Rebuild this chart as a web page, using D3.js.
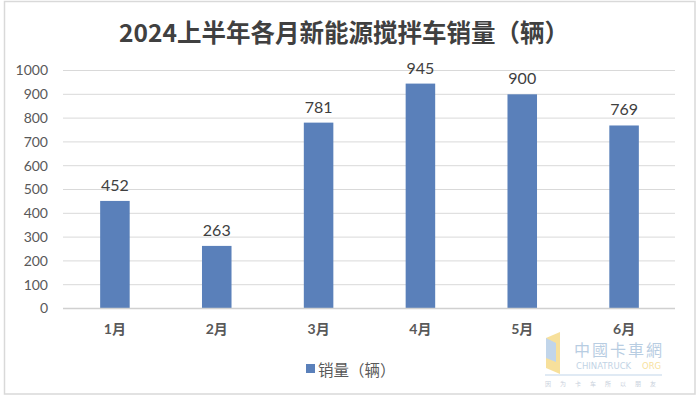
<!DOCTYPE html>
<html><head><meta charset="utf-8">
<script src="https://cdn.jsdelivr.net/npm/d3@7"></script>
<style>body{margin:0;background:#fff}svg{display:block}</style>
</head><body>
<svg id="c" width="700" height="399"></svg>
<script>
const categories = ["1月","2月","3月","4月","5月","6月"];
const sales = [452, 263, 781, 945, 900, 769];
const yTicks = [0,100,200,300,400,500,600,700,800,900,1000];
const title = "2024上半年各月新能源搅拌车销量（辆）";
const seriesName = "销量（辆）";

const svg = d3.select("#c");
const font = "Lato, 'Noto Sans CJK SC', sans-serif";

svg.append("rect").attr("x",4.5).attr("y",1.5).attr("width",690.5).attr("height",392.5)
  .attr("fill","#fff").attr("stroke","#d9d9d9").attr("stroke-width",1.5);

const x = d3.scaleBand().domain(categories).range([64,675]).paddingInner(0.71).paddingOuter(0.355);
const y = d3.scaleLinear().domain([0,1000]).range([308.5,70.5]);

// gridlines
svg.append("g").selectAll("line").data(yTicks.filter(d=>d>0)).join("line")
  .attr("x1",63).attr("x2",675).attr("y1",d=>y(d)).attr("y2",d=>y(d))
  .attr("stroke","#d9d9d9").attr("stroke-width",1);

// y axis labels
const yAxis = d3.axisLeft(y).tickValues(yTicks).tickFormat(d3.format("d")).tickSize(0).tickPadding(0);
const gy = svg.append("g").attr("transform","translate(48,0)").call(yAxis);
gy.select(".domain").remove();
gy.selectAll("text").attr("font-family",font).attr("font-size",14).attr("fill","#595959");

// bars
svg.append("g").selectAll("rect").data(sales).join("rect")
  .attr("x",(d,i)=>x(categories[i])).attr("width",x.bandwidth())
  .attr("y",d=>y(d)).attr("height",d=>y(0)-y(d)).attr("fill","#5a80ba");

// x axis
const xAxis = d3.axisBottom(x).tickSize(0).tickPadding(16);
const gx = svg.append("g").attr("transform",`translate(0,${y(0)})`).call(xAxis);
gx.select(".domain").attr("stroke","#d0d0d0").attr("stroke-width",1.5).attr("d","M63,0H675");
gx.selectAll("text").attr("font-family",font).attr("font-size",14).attr("font-weight","bold").attr("fill","#595959");

// data labels
svg.append("g").selectAll("text").data(sales).join("text")
  .attr("x",(d,i)=>x(categories[i])+x.bandwidth()/2).attr("y",d=>y(d)-10)
  .attr("text-anchor","middle").attr("font-family",font).attr("font-size",16)
  .attr("fill","#404040").text(d=>d);

// title
svg.append("text").attr("x",344).attr("y",42).attr("text-anchor","middle")
  .attr("font-family","'Noto Sans CJK SC', sans-serif").attr("font-size",24.5).attr("font-weight","bold")
  .attr("fill","#404040").text(title);

// legend
svg.append("rect").attr("x",306).attr("y",364).attr("width",9).attr("height",9).attr("fill","#5a80ba");
svg.append("text").attr("x",318).attr("y",376).attr("font-family","'Noto Sans CJK SC', sans-serif")
  .attr("font-size",15.5).attr("fill","#595959").text(seriesName);

// watermark
const wm = svg.append("g").attr("opacity",0.55);
wm.append("path").attr("d","M546,338 L560,332 L560,374 L546,368 Z").attr("fill","#f2c84b");
wm.append("path").attr("d","M546,338 L556,343 L556,362 L546,358 Z").attr("fill","#8fb4d9");
wm.append("text").attr("x",574).attr("y",356).attr("font-family","'Noto Sans CJK SC', sans-serif")
  .attr("font-size",16).attr("fill","#7fa6cc").attr("letter-spacing",2).text("中國卡車網");
wm.append("text").attr("x",576).attr("y",369).attr("font-family","'DejaVu Sans', sans-serif")
  .attr("font-size",8.5).attr("fill","#8fb0d0").text("CHINATRUCK");
wm.append("text").attr("x",642).attr("y",369).attr("font-family","'DejaVu Sans', sans-serif")
  .attr("font-size",8.5).attr("fill","#f2c84b").text("ORG");
wm.append("line").attr("x1",545).attr("x2",662).attr("y1",375).attr("y2",375).attr("stroke","#8fb4d9");
wm.append("text").attr("x",545).attr("y",386).attr("font-family","'Noto Sans CJK SC', sans-serif")
  .attr("font-size",6).attr("fill","#9aaac0").attr("letter-spacing",9).text("因为卡车所以朋友");
</script>
</body></html>
